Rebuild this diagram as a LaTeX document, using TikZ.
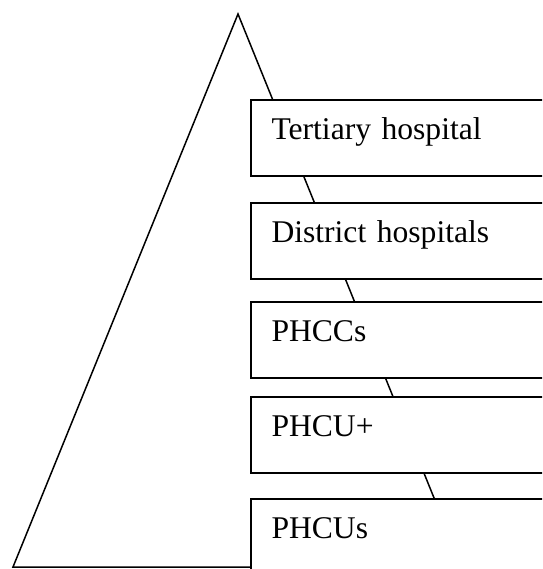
\documentclass[tikz,border=0pt]{standalone}
\usepackage{fontspec}
\setmainfont{Liberation Serif}
\usepackage{tikz}
\usetikzlibrary{calc,positioning}

\tikzset{
  tierbox/.style={draw, line width=2pt, fill=white, rectangle, anchor=north west,
    minimum height=76.5pt, inner ysep=0pt, inner xsep=21pt,
    text width=300pt, align=left, text height=23.5pt, text depth=20pt,
    font=\fontsize{31.6}{38}\selectfont}
}

\begin{document}
\begin{tikzpicture}[x=1pt,y=-1pt]
	\useasboundingbox (0,0) rectangle (542,569);
	\clip (0,0) rectangle (542,569);
	% pyramid
	\coordinate (apex) at (238,14);
	\coordinate (baseL) at (13,567);
	\coordinate (baseR) at (462,567);
	\draw[line width=1.5pt] (baseL) -- (apex) -- (baseR) -- cycle;

	% levels of care
	\node[tierbox] (tertiary) at (249.5,99) {Tertiary hospital};
	\node[tierbox] (district) at (249.5,201.5) {District hospitals};
	\node[tierbox] (phccs) at (249.5,300.5) {PHCCs};
	\node[tierbox] (phcuplus) at (249.5,395.5) {PHCU+};
	\node[tierbox] (phcus) at (249.5,497.5) {PHCUs};
\end{tikzpicture}
\end{document}
